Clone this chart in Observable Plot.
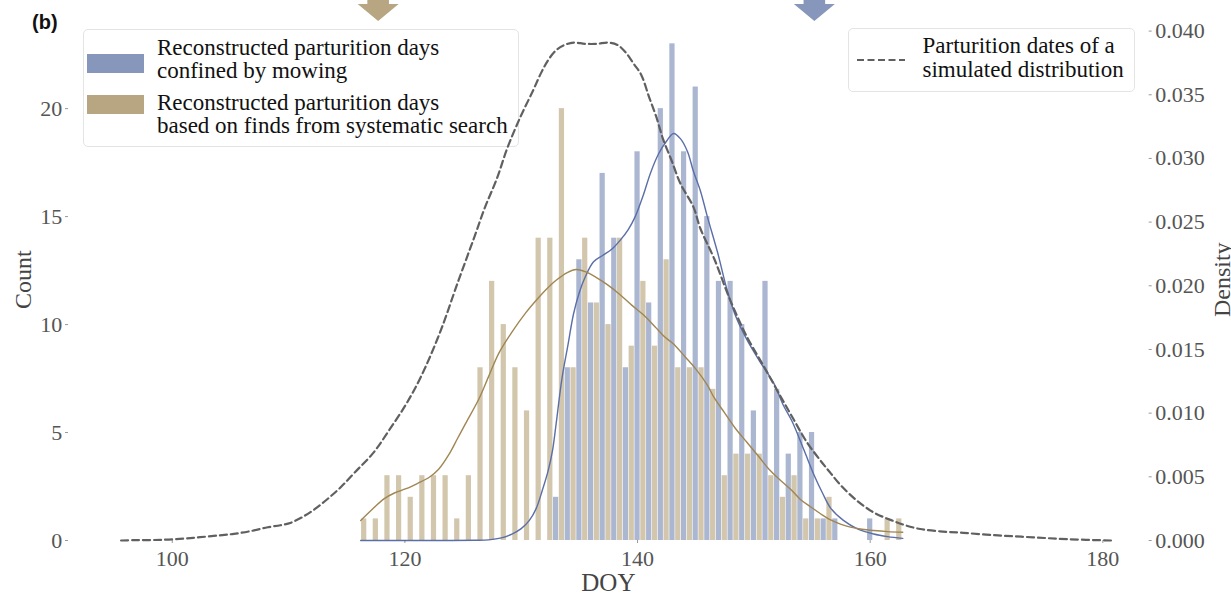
<!DOCTYPE html>
<html><head><meta charset="utf-8">
<script src="https://cdn.jsdelivr.net/npm/d3@7"></script>
<script src="https://cdn.jsdelivr.net/npm/@observablehq/plot@0.6"></script>
<style>
html,body{margin:0;padding:0;background:#fff;}
#wrap{position:relative;width:1231px;height:596px;overflow:hidden;font-family:"Liberation Serif",serif;}
#wrap svg{position:absolute;left:0;top:0;}
.legend{position:absolute;border:1px solid #e4e4e4;border-radius:5px;background:rgba(255,255,255,0.8);box-sizing:border-box;}
.lt{position:absolute;font-family:"Liberation Serif",serif;font-size:23px;line-height:23.5px;color:#111;white-space:nowrap;}
.patch{position:absolute;}
#plabel{position:absolute;left:32px;top:12px;font-family:"Liberation Sans",sans-serif;font-weight:bold;font-size:20px;line-height:20px;color:#111;}
</style></head><body><div id="wrap"></div>
<script>
// ---- data ----
const tanDays = [116,117,118,119,120,121,122,123,124,125,126,127,128,129,130,131,132,133,134,135,136,137,138,139,140,141,142,143,144,145,146,147,148,149,150,151,152,153,154,155,156,157,158,159,160,161,162];
const tanCounts = [1,1,3,3,2,3,3,3,1,3,8,12,10,8,6,14,14,20,8,14,11,10,14,9,12,9,13,8,8,8,7,3,4,4,4,3,2,3,1,1,2,0,0,0,0,1,1];
const blueDays = [133,134,135,136,137,138,139,140,141,142,143,144,145,146,147,148,149,150,151,152,153,154,155,156,157,158,159,160];
const blueCounts = [2,8,13,11,17,14,8,18,11,20,23,18,21,15,12,12,10,6,12,7,4,5,5,1,1,0,0,1];

const tanKdeDays = [116.2,117.2,118.2,119.1,120.1,121.1,122.1,122.9,123.8,124.5,125.2,126.4,127.2,128.1,129.2,130.4,131.5,132.1,133.0,134.0,134.7,135.5,136.4,137.4,138.4,139.5,140.5,141.5,142.4,143.1,144.1,145.0,146.0,146.6,147.5,148.4,149.4,150.4,151.3,152.3,153.2,154.0,154.9,155.7,156.6,157.5,158.3,159.3,160.3,161.5,162.8];
const tanKdeCounts = [0.93,1.45,1.93,2.2,2.4,2.65,2.93,3.3,4.0,4.7,5.4,6.6,7.6,8.7,9.65,10.55,11.25,11.6,12.05,12.42,12.55,12.45,12.2,11.85,11.43,10.9,10.45,9.9,9.4,9.1,8.5,7.95,7.2,6.6,5.9,5.2,4.55,3.9,3.3,2.78,2.35,1.9,1.55,1.25,0.95,0.75,0.62,0.52,0.46,0.41,0.38];

const blueKdeDays = [116.2,120,124,126,127.2,128.3,129.2,130.0,130.7,131.3,131.8,132.3,132.7,133.0,133.5,134.0,134.5,135.0,135.5,136.2,137.0,137.8,138.5,139.2,139.8,140.5,141.1,141.8,142.5,143.1,143.7,144.3,144.8,145.4,146.0,146.9,147.7,148.5,149.4,150.5,151.7,152.5,153.3,154.3,155.2,155.9,156.6,157.7,158.9,160.3,161.5,162.8];
const blueKdeCounts = [0,0,0,0.01,0.03,0.12,0.3,0.55,0.93,1.5,2.3,3.2,4.2,5.4,7.5,9.0,10.5,11.5,12.2,12.9,13.2,13.5,13.9,14.4,15.0,16.0,17.0,17.9,18.5,18.85,18.6,18.0,17.1,16.2,15.0,13.3,11.6,10.3,9.3,8.3,7.3,6.3,5.5,4.2,3.0,2.2,1.5,0.93,0.54,0.3,0.18,0.1];

const simDays = [95.6,97,99,101,102.4,104,105.3,106.8,108.2,109.3,110.2,111.3,112.3,113.4,114.5,115.75,117.3,118.6,120.1,121.4,123.0,124.6,126.0,126.9,127.9,128.8,129.9,131.0,131.7,132.3,133.0,133.7,134.5,135.5,136.5,137.5,138.3,139.0,139.7,140.3,141.0,141.6,142.2,142.9,143.7,144.8,145.4,146.6,148.0,149.4,150.9,152.3,153.3,154.5,155.7,156.5,157.5,158.9,160.3,161.8,163,164.3,166,168,171,174,177,180.7];
const simDensity = [0,0.00003,0.00005,0.00015,0.00026,0.0004,0.00052,0.00075,0.00104,0.0012,0.0014,0.0019,0.0025,0.0033,0.0042,0.0054,0.0069,0.0086,0.0107,0.0129,0.0163,0.0204,0.0239,0.0262,0.0284,0.0308,0.0332,0.0353,0.0367,0.0377,0.0385,0.0389,0.0391,0.0390,0.0390,0.0391,0.0389,0.0383,0.0374,0.0366,0.0348,0.0333,0.0315,0.0299,0.0280,0.0262,0.0245,0.0221,0.0188,0.0160,0.0136,0.0113,0.0097,0.0078,0.0063,0.0054,0.0043,0.0031,0.0022,0.0016,0.0012,0.0009,0.00072,0.0006,0.0004,0.00025,0.0001,0];

const xTicks = [100,120,140,160,180];
const countTicks = [0,5,10,15,20];
const densityTicks = [0,0.005,0.01,0.015,0.02,0.025,0.03,0.035,0.04];
const arrowDays = [117.7,155.2];
const seriesLabels = ["Reconstructed parturition days\nconfined by mowing","Reconstructed parturition days\nbased on finds from systematic search"];
const simLabel = "Parturition dates of a\nsimulated distribution";

// ---- styles ----
const blueBar = "#abb6d1", tanBar = "#d2c6ad";
const blueLine = "#5a6ea8", tanLine = "#a08652";
const blueSolid = "#8797bb", tanSolid = "#b8a682";
const arrowColors = [tanSolid, blueSolid];
const W = 1231, H = 596, mL = 68, mR = 83.3, mT = 18.5, mB = 56;
const xDomain = [91.08, 183.9];
const countMax = 24.15, densMax = 0.04095;
const FONT = "Liberation Serif";

const tanRows = tanDays.map((d,i)=>({day:d,count:tanCounts[i]})).filter(r=>r.count>0);
const blueRows = blueDays.map((d,i)=>({day:d,count:blueCounts[i]})).filter(r=>r.count>0);
const tanKde = tanKdeDays.map((d,i)=>({day:d,v:tanKdeCounts[i]}));
const blueKde = blueKdeDays.map((d,i)=>({day:d,v:blueKdeCounts[i]}));
const sim = simDays.map((d,i)=>({day:d,v:simDensity[i]}));

const arrowSymbol = {draw(ctx){
  ctx.moveTo(0,0); ctx.lineTo(-20.5,-17); ctx.lineTo(-10.8,-17); ctx.lineTo(-10.8,-45);
  ctx.lineTo(10.8,-45); ctx.lineTo(10.8,-17); ctx.lineTo(20.5,-17); ctx.closePath();
}};

const common = {width:W,height:H,marginLeft:mL,marginRight:mR,marginTop:mT,marginBottom:mB,
  style:{fontFamily:FONT,fontSize:"22px",background:"transparent",overflow:"visible"}};

const p1 = Plot.plot({
  ...common,
  x:{domain:xDomain},
  y:{domain:[0,countMax]},
  marks:[
    Plot.rect(blueRows,{x1:d=>d.day-0.25,x2:d=>d.day+0.25,y1:0,y2:"count",fill:blueBar,insetLeft:0.3,insetRight:0.3}),
    Plot.rect(tanRows,{x1:d=>d.day+0.25,x2:d=>d.day+0.75,y1:0,y2:"count",fill:tanBar,insetLeft:0.3,insetRight:0.3}),
    Plot.line(blueKde,{x:"day",y:"v",stroke:blueLine,strokeWidth:1.4,curve:"catmull-rom"}),
    Plot.line(tanKde,{x:"day",y:"v",stroke:tanLine,strokeWidth:1.4,curve:"catmull-rom"}),
    Plot.axisX({ticks:xTicks,tickSize:3,tickPadding:6.5,fontSize:22,color:"#555",strokeOpacity:0.6,label:null}),
    Plot.axisY({anchor:"left",ticks:countTicks,tickSize:3,tickPadding:3.3,fontSize:22,color:"#555",strokeOpacity:0.6,label:null}),
    Plot.text(["DOY"],{frameAnchor:"bottom",dy:50,text:d=>d,fontSize:25,fill:"#444",textAnchor:"middle"}),
    Plot.text(["Count"],{frameAnchor:"left",dx:-45,rotate:-90,text:d=>d,fontSize:24,fill:"#444",textAnchor:"middle"}),
    ...arrowDays.map((a,i)=>Plot.dot([a],{x:d=>d,frameAnchor:"top",dy:2,symbol:arrowSymbol,r:5,fill:arrowColors[i],stroke:"none"}))
  ]
});

const p2 = Plot.plot({
  ...common,
  x:{domain:xDomain,axis:null},
  y:{domain:[0,densMax]},
  marks:[
    Plot.line(sim,{x:"day",y:"v",stroke:"#606060",strokeWidth:2.2,strokeDasharray:"7,4",curve:"catmull-rom"}),
    Plot.axisY({anchor:"right",ticks:densityTicks,tickFormat:".3f",tickSize:3,tickPadding:4,fontSize:22,color:"#555",strokeOpacity:0.6,label:null}),
    Plot.text(["Density"],{frameAnchor:"right",dx:74,rotate:-90,text:d=>d,fontSize:24,fill:"#444",textAnchor:"middle"})
  ]
});

const wrap = document.getElementById("wrap");
wrap.appendChild(p1);

function el(tag, cls, css, txt){const e=document.createElement(tag); if(cls) e.className=cls; Object.assign(e.style,css); if(txt!==undefined) e.textContent=txt; return e;}

// left legend (under the density axes)
const lg1 = el("div","legend",{left:"82.5px",top:"29px",width:"436px",height:"118px"});
wrap.appendChild(lg1);
const sw = [blueSolid, tanSolid];
const patchTops = [53.5, 94.5];
const textTops = [35.5, 90.5];
seriesLabels.forEach((lab,i)=>{
  wrap.appendChild(el("div","patch",{left:"87px",top:patchTops[i]+"px",width:"57px",height:"19px",background:sw[i]}));
  lab.split("\n").forEach((line,j)=>{
    wrap.appendChild(el("div","lt",{left:"157px",top:(textTops[i]+j*23.5)+"px"},line));
  });
});

wrap.appendChild(p2);

// right legend
const lg2 = el("div","legend",{left:"848px",top:"28px",width:"287px",height:"64px"});
wrap.appendChild(lg2);
const dashSvg = document.createElementNS("http://www.w3.org/2000/svg","svg");
dashSvg.setAttribute("width","60"); dashSvg.setAttribute("height","6");
Object.assign(dashSvg.style,{position:"absolute",left:"857px",top:"57px"});
const ln = document.createElementNS("http://www.w3.org/2000/svg","line");
ln.setAttribute("x1","0");ln.setAttribute("x2","48");ln.setAttribute("y1","3");ln.setAttribute("y2","3");
ln.setAttribute("stroke","#606060");ln.setAttribute("stroke-width","2.2");ln.setAttribute("stroke-dasharray","7,3.5");
dashSvg.appendChild(ln); wrap.appendChild(dashSvg);
simLabel.split("\n").forEach((line,j)=>{
  wrap.appendChild(el("div","lt",{left:"922.5px",top:(34+j*24)+"px"},line));
});

wrap.appendChild(el("div",null,{},"(b)")).id="plabel";
</script></body></html>
